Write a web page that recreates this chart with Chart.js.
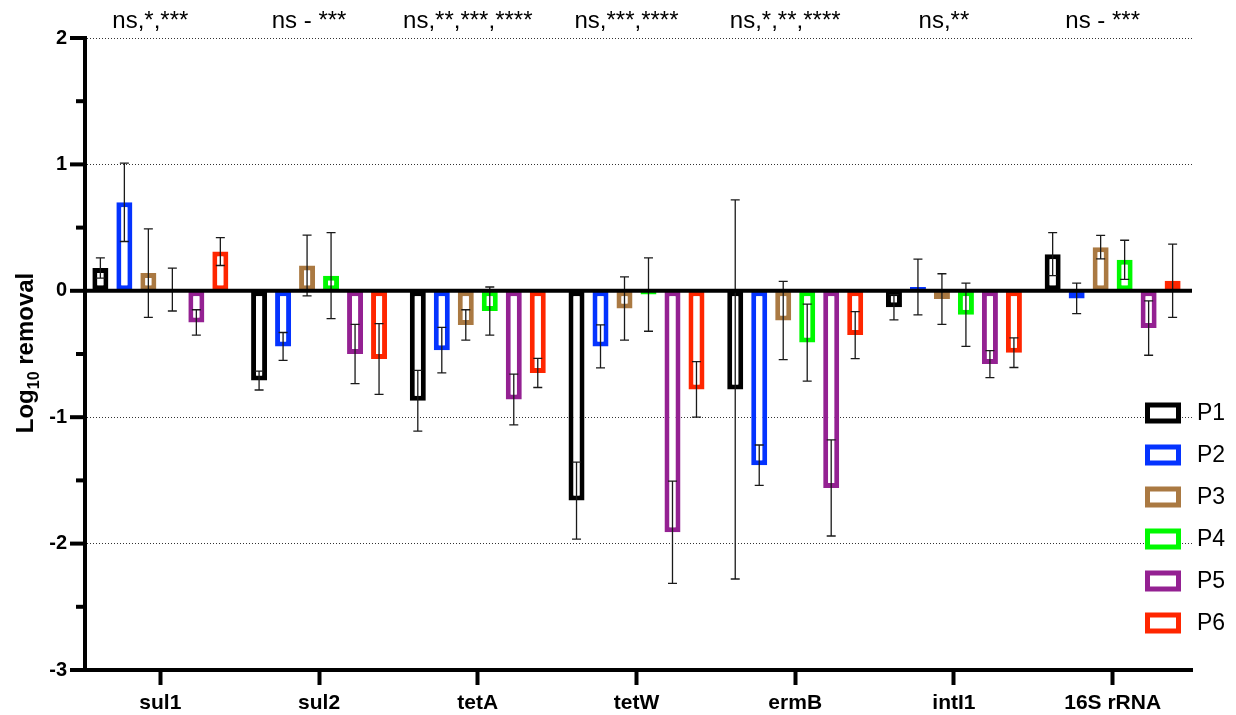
<!DOCTYPE html>
<html>
<head>
<meta charset="utf-8">
<script src="https://cdn.jsdelivr.net/npm/chart.js@4.4.1/dist/chart.umd.min.js"></script>
<style>
  html, body { margin: 0; padding: 0; background: #fff; }
  canvas { display: block; }
</style>
</head>
<body>
<canvas id="removalChart" width="1236" height="715"></canvas>
<script>
// === Data ====================================================================
const genes = ["sul1", "sul2", "tetA", "tetW", "ermB", "intI1", "16S rRNA"];
const sigLabels = ["ns,*,***", "ns - ***", "ns,**,***,****", "ns,***,****", "ns,*,**,****", "ns,**", "ns - ***"];

const p1 = [0.18, -0.71, -0.87, -1.66, -0.78, -0.13, 0.29];
const p2 = [0.70, -0.44, -0.47, -0.44, -1.38, 0.03, -0.06];
const p3 = [0.14, 0.20, -0.27, -0.14, -0.235, -0.065, 0.345];
const p4 = [0.01, 0.12, -0.16, -0.03, -0.41, -0.19, 0.245];
const p5 = [-0.25, -0.50, -0.86, -1.91, -1.56, -0.58, -0.295];
const p6 = [0.31, -0.54, -0.65, -0.78, -0.35, -0.49, 0.08];

// standard deviations (error bars)
const p1Err = [0.08, 0.075, 0.24, 0.305, 1.5, 0.1, 0.17];
const p2Err = [0.31, 0.11, 0.18, 0.17, 0.16, 0.22, 0.12];
const p3Err = [0.35, 0.24, 0.12, 0.25, 0.31, 0.2, 0.093];
const p4Err = [0.17, 0.34, 0.19, 0.29, 0.305, 0.25, 0.155];
const p5Err = [0.1, 0.235, 0.2, 0.405, 0.38, 0.107, 0.215];
const p6Err = [0.11, 0.28, 0.115, 0.22, 0.186, 0.117, 0.29];

const seriesNames = ["P1", "P2", "P3", "P4", "P5", "P6"];
const seriesColors = ["#000000", "#0433FF", "#AA7942", "#00F900", "#942192", "#FF2600"];

const FONT = '"Liberation Sans", Arial, Helvetica, sans-serif';

// === Datasets ================================================================
const values = [p1, p2, p3, p4, p5, p6];
const errors = [p1Err, p2Err, p3Err, p4Err, p5Err, p6Err];

const datasets = seriesNames.map((name, i) => ({
  label: name,
  data: values[i],
  errors: errors[i],
  backgroundColor: "#ffffff",
  borderColor: seriesColors[i],
  borderWidth: 5,
  borderSkipped: false,
}));

// === Custom drawing: error bars, axes, labels, legend ========================
const decorations = {
  id: "decorations",
  afterDatasetsDraw(chart) {
    const ctx = chart.ctx;
    const y = chart.scales.y;
    const x = chart.scales.x;
    const area = chart.chartArea;

    // error bars
    ctx.save();
    ctx.strokeStyle = "#1a1a1a";
    ctx.lineWidth = 1.3;
    chart.data.datasets.forEach((ds, di) => {
      const meta = chart.getDatasetMeta(di);
      meta.data.forEach((bar, j) => {
        const v = ds.data[j];
        const e = ds.errors[j];
        const yTop = y.getPixelForValue(v + e);
        const yBot = y.getPixelForValue(v - e);
        ctx.beginPath();
        ctx.moveTo(bar.x, yTop);
        ctx.lineTo(bar.x, yBot);
        ctx.moveTo(bar.x - 4.5, yTop);
        ctx.lineTo(bar.x + 4.5, yTop);
        ctx.moveTo(bar.x - 4.5, yBot);
        ctx.lineTo(bar.x + 4.5, yBot);
        ctx.stroke();
      });
    });
    ctx.restore();

    // zero line
    ctx.save();
    ctx.strokeStyle = "#000";
    ctx.lineWidth = 4;
    const y0 = y.getPixelForValue(0);
    ctx.beginPath();
    ctx.moveTo(area.left + 2, y0);
    ctx.lineTo(area.right, y0);
    ctx.stroke();

    // y axis line + ticks
    const axisX = area.left + 4;
    ctx.beginPath();
    ctx.moveTo(axisX, area.top - 2);
    ctx.lineTo(axisX, area.bottom + 2);
    ctx.stroke();
    y.ticks.forEach((t) => {
      const py = y.getPixelForValue(t.value);
      const len = Number.isInteger(t.value) ? 15 : 9;
      ctx.beginPath();
      ctx.moveTo(axisX - len, py);
      ctx.lineTo(axisX, py);
      ctx.stroke();
    });
    ctx.restore();

    // significance labels above groups
    ctx.save();
    ctx.fillStyle = "#000";
    ctx.font = "24px " + FONT;
    ctx.textAlign = "center";
    ctx.textBaseline = "alphabetic";
    sigLabels.forEach((s, i) => {
      ctx.fillText(s, x.getPixelForValue(i) - 10, 28);
    });
    ctx.restore();

    // y axis title: Log10 removal
    ctx.save();
    ctx.translate(33, 353);
    ctx.rotate(-Math.PI / 2);
    ctx.fillStyle = "#000";
    ctx.textBaseline = "alphabetic";
    ctx.textAlign = "left";
    const big = "bold 24px " + FONT;
    const small = "bold 16px " + FONT;
    ctx.font = big;
    const w1 = ctx.measureText("Log").width;
    const w3 = ctx.measureText(" removal").width;
    ctx.font = small;
    const w2 = ctx.measureText("10").width;
    let cx = -(w1 + w2 + w3) / 2;
    ctx.font = big;
    ctx.fillText("Log", cx, 0);
    cx += w1;
    ctx.font = small;
    ctx.fillText("10", cx, 6);
    cx += w2;
    ctx.font = big;
    ctx.fillText(" removal", cx, 0);
    ctx.restore();

    // legend
    ctx.save();
    ctx.font = "23px " + FONT;
    ctx.textBaseline = "middle";
    ctx.textAlign = "left";
    chart.data.datasets.forEach((ds, i) => {
      const cy = 413 + i * 42;
      ctx.fillStyle = "#ffffff";
      ctx.fillRect(1145, cy - 10.5, 36, 21);
      ctx.strokeStyle = ds.borderColor;
      ctx.lineWidth = 5;
      ctx.strokeRect(1147.5, cy - 8, 31, 16);
      ctx.fillStyle = "#000";
      ctx.fillText(ds.label, 1197, cy + 1);
    });
    ctx.restore();
  },
};

// === Chart ===================================================================
new Chart(document.getElementById("removalChart"), {
  type: "bar",
  data: { labels: genes, datasets },
  plugins: [decorations],
  options: {
    responsive: false,
    animation: false,
    layout: { padding: { top: 38, right: 44, left: 0, bottom: 0 } },
    datasets: { bar: { categoryPercentage: 0.907, barPercentage: 0.667 } },
    plugins: {
      legend: { display: false },
      tooltip: { enabled: false },
    },
    scales: {
      x: {
        grid: {
          display: true,
          drawOnChartArea: false,
          drawTicks: true,
          offset: false,
          tickLength: 15,
          tickWidth: 4,
          tickColor: "#000",
          color: "#000",
        },
        border: { display: true, color: "#000", width: 4 },
        ticks: {
          color: "#000",
          font: { family: FONT, size: 21, weight: "bold" },
          padding: 6,
          maxRotation: 0,
          autoSkip: false,
        },
        afterFit: (s) => { s.height = 45; },
      },
      y: {
        min: -3,
        max: 2,
        grid: {
          drawTicks: false,
          lineWidth: 1,
          color: (c) => {
            const v = c.tick ? c.tick.value : 0;
            return Number.isInteger(v) && v !== 0 && v !== -3 ? "#333" : "rgba(0,0,0,0)";
          },
        },
        border: { display: false, dash: [1, 2] },
        ticks: {
          stepSize: 0.5,
          color: "#000",
          padding: 14,
          font: { family: FONT, size: 20, weight: "bold" },
          callback: (v) => (Number.isInteger(v) ? String(v) : ""),
        },
        afterFit: (s) => { s.width = 81; },
      },
    },
  },
});
</script>
</body>
</html>
